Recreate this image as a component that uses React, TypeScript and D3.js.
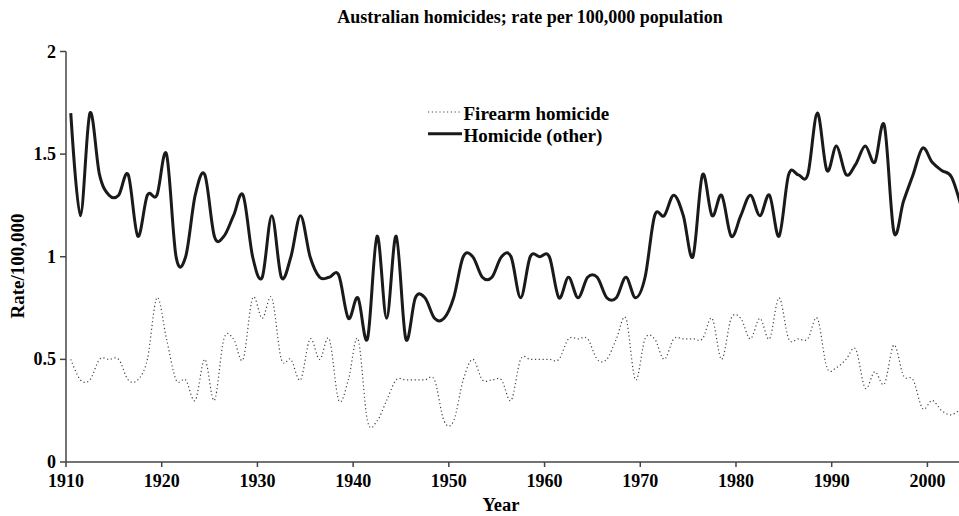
import React, { useEffect, useRef } from 'react'
import * as d3 from 'd3'

// annual rates per 100,000 population, 1910–2003
const years = d3.range(1910, 2004)

const homicideOther = [
  1.7, 1.2, 1.7, 1.4, 1.3, 1.3, 1.4, 1.1, 1.3, 1.3,
  1.5, 1.0, 1.0, 1.3, 1.4, 1.1, 1.1, 1.2, 1.3, 1.0,
  0.9, 1.2, 0.9, 1.0, 1.2, 1.0, 0.9, 0.9, 0.91, 0.7,
  0.8, 0.6, 1.1, 0.7, 1.1, 0.6, 0.8, 0.8, 0.7, 0.7,
  0.8, 1.0, 1.0, 0.9, 0.9, 1.0, 1.0, 0.8, 1.0, 1.0,
  1.0, 0.8, 0.9, 0.8, 0.9, 0.9, 0.8, 0.8, 0.9, 0.8,
  0.9, 1.2, 1.2, 1.3, 1.2, 1.0, 1.4, 1.2, 1.3, 1.1,
  1.2, 1.3, 1.2, 1.3, 1.1, 1.4, 1.4, 1.4, 1.7, 1.42,
  1.54, 1.4, 1.45, 1.54, 1.46, 1.64, 1.12, 1.27, 1.4, 1.53,
  1.46, 1.42, 1.39, 1.25,
]

const firearm = [
  0.5, 0.4, 0.4, 0.5, 0.5, 0.5, 0.4, 0.4, 0.5, 0.8,
  0.6, 0.4, 0.4, 0.3, 0.5, 0.3, 0.6, 0.6, 0.5, 0.8,
  0.7, 0.8, 0.5, 0.5, 0.4, 0.6, 0.5, 0.6, 0.3, 0.4,
  0.6, 0.2, 0.2, 0.3, 0.4, 0.4, 0.4, 0.4, 0.4, 0.2,
  0.2, 0.4, 0.5, 0.4, 0.4, 0.4, 0.3, 0.5, 0.5, 0.5,
  0.5, 0.5, 0.6, 0.6, 0.6, 0.5, 0.5, 0.6, 0.7, 0.4,
  0.6, 0.6, 0.5, 0.6, 0.6, 0.6, 0.6, 0.7, 0.5, 0.7,
  0.7, 0.6, 0.7, 0.6, 0.8, 0.6, 0.6, 0.6, 0.7, 0.46,
  0.46, 0.5, 0.55, 0.36, 0.44, 0.38, 0.57, 0.42, 0.4, 0.26,
  0.3, 0.25, 0.23, 0.26,
]

const xTicks = [1910, 1920, 1930, 1940, 1950, 1960, 1970, 1980, 1990, 2000]
const yTicks = [0, 0.5, 1, 1.5, 2]

const title = 'Australian homicides; rate per 100,000 population'
const seriesNames = ['Firearm homicide', 'Homicide (other)']

export default function App() {
  const svgRef = useRef<SVGSVGElement>(null)

  useEffect(() => {
    if (!svgRef.current) return
    const W = 959
    const left = 66, right = 959, top = 51.5, bottom = 462
    const font = '"Liberation Serif", "Times New Roman", serif'

    const svg = d3.select(svgRef.current)
    svg.selectAll('*').remove()

    const x = d3.scaleLinear().domain([1910, 2003.3]).range([left, right])
    const y = d3.scaleLinear().domain([0, 2]).range([bottom, top])

    // title
    svg.append('text')
      .attr('x', 530)
      .attr('y', 23)
      .attr('text-anchor', 'middle')
      .style('font-family', font)
      .style('font-weight', 'bold')
      .style('font-size', '18px')
      .text(title)

    const line = d3.line<number>()
      .x((_, i) => x(years[i] + 0.5))
      .y(d => y(d))
      .curve(d3.curveCardinal.tension(0))

    svg.append('path')
      .datum(firearm)
      .attr('d', line)
      .attr('fill', 'none')
      .attr('stroke', '#444')
      .attr('stroke-width', 1.2)
      .attr('stroke-dasharray', '1.2,2.6')

    svg.append('path')
      .datum(homicideOther)
      .attr('d', line)
      .attr('fill', 'none')
      .attr('stroke', '#1a1a1a')
      .attr('stroke-width', 3)
      .attr('stroke-linejoin', 'round')

    // axes
    const axisColor = '#444'
    svg.append('line')
      .attr('x1', left).attr('x2', left)
      .attr('y1', y(2)).attr('y2', bottom)
      .attr('stroke', axisColor).attr('stroke-width', 1.5)
    svg.append('line')
      .attr('x1', left).attr('x2', W)
      .attr('y1', bottom).attr('y2', bottom)
      .attr('stroke', axisColor).attr('stroke-width', 1.5)

    const yg = svg.append('g')
    yTicks.forEach(t => {
      yg.append('line')
        .attr('x1', left - 6).attr('x2', left)
        .attr('y1', y(t)).attr('y2', y(t))
        .attr('stroke', axisColor).attr('stroke-width', 1.5)
      yg.append('text')
        .attr('x', left - 10)
        .attr('y', y(t) + 6)
        .attr('text-anchor', 'end')
        .style('font-family', font)
        .style('font-weight', 'bold')
        .style('font-size', '18px')
        .text(String(t))
    })

    const xg = svg.append('g')
    xTicks.forEach(t => {
      xg.append('line')
        .attr('x1', x(t)).attr('x2', x(t))
        .attr('y1', bottom).attr('y2', bottom + 5)
        .attr('stroke', axisColor).attr('stroke-width', 1.5)
      xg.append('text')
        .attr('x', x(t))
        .attr('y', bottom + 25)
        .attr('text-anchor', 'middle')
        .style('font-family', font)
        .style('font-weight', 'bold')
        .style('font-size', '18px')
        .text(String(t))
    })

    svg.append('text')
      .attr('x', 501)
      .attr('y', 510.5)
      .attr('text-anchor', 'middle')
      .style('font-family', font)
      .style('font-weight', 'bold')
      .style('font-size', '18.5px')
      .text('Year')

    svg.append('text')
      .attr('transform', 'translate(24,266) rotate(-90)')
      .attr('text-anchor', 'middle')
      .style('font-family', font)
      .style('font-weight', 'bold')
      .style('font-size', '19px')
      .text('Rate/100,000')

    // legend
    const legend = svg.append('g')
    seriesNames.forEach((name, i) => {
      const ly = 112 + i * 21.7
      legend.append('line')
        .attr('x1', 428).attr('x2', 462)
        .attr('y1', ly).attr('y2', ly)
        .attr('stroke', i === 0 ? '#444' : '#1a1a1a')
        .attr('stroke-width', i === 0 ? 1.2 : 3)
        .attr('stroke-dasharray', i === 0 ? '1.2,2.6' : null)
      legend.append('text')
        .attr('x', 463.5)
        .attr('y', ly + 8)
        .style('font-family', font)
        .style('font-weight', 'bold')
        .style('font-size', '19px')
        .text(name)
    })
  }, [])

  return (
    <svg
      ref={svgRef}
      width={959}
      height={516}
      style={{ position: 'absolute', left: 0, top: 0, background: '#fff' }}
    />
  )
}
